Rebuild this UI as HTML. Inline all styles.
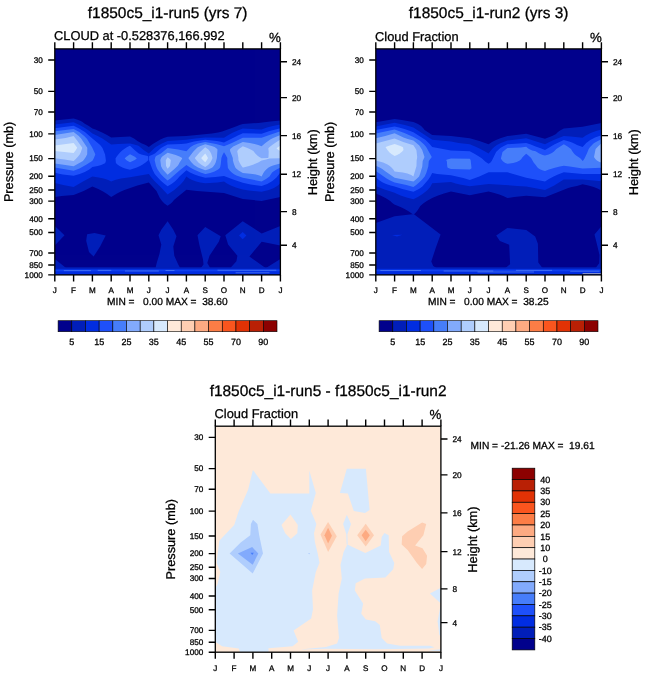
<!DOCTYPE html>
<html><head><meta charset="utf-8"><title>Cloud fraction annual cycle</title>
<style>html,body{margin:0;padding:0;background:#fff;}svg{display:block;will-change:transform;opacity:0.999;}text{font-family:"Liberation Sans",sans-serif;text-rendering:geometricPrecision;stroke:#000;stroke-width:0.28px;}</style></head>
<body>
<svg width="647" height="676" viewBox="0 0 647 676" font-family="Liberation Sans, sans-serif" fill="#000">
<defs><clipPath id="clipbox"><rect x="0" y="0" width="225.60" height="226.00"/></clipPath></defs>
<rect width="647" height="676" fill="#fff"/>
<g>
<rect x="54.80" y="48.90" width="225.60" height="226.00" fill="#00008c"/>
<g transform="translate(54.80 48.90)" clip-path="url(#clipbox)" shape-rendering="geometricPrecision">
<path d="M18.8 69.7L22.1 70.5L26.0 72.0L27.7 73.0L29.6 74.5L34.0 77.0L37.6 79.5L40.7 80.5L47.3 83.5L52.2 86.0L56.4 88.6L75.2 87.6L79.2 89.5L82.6 92.0L87.1 94.5L89.7 95.5L91.7 96.5L94.0 98.2L98.0 95.0L105.6 90.5L108.9 89.0L112.8 87.9L131.6 87.1L157.1 84.5L163.3 83.5L167.4 82.5L181.1 77.5L184.7 76.0L188.0 75.0L203.6 74.0L215.5 72.5L225.6 71.7L225.6 148.0L206.8 152.0L188.0 150.2L169.2 144.2L142.2 142.0L131.6 140.9L122.1 148.5L119.2 151.0L117.6 153.0L116.0 154.5L112.8 156.8L109.6 154.5L107.2 152.0L104.8 148.5L101.7 142.0L94.0 133.5L82.6 136.5L69.6 141.0L66.1 142.5L62.2 144.5L56.4 148.2L52.3 145.0L48.3 142.5L43.5 140.0L37.6 137.6L28.8 142.0L18.8 146.0L6.8 147.0L0.0 148.0L0.0 71.7Z" fill="#001eb9" fill-rule="evenodd"/>
<path d="M18.8 73.4L24.7 76.0L29.3 78.5L33.9 81.5L37.6 84.6L42.9 87.0L47.6 89.5L56.4 95.7L57.0 95.5L63.2 95.0L75.2 94.6L79.3 95.5L83.0 96.5L84.0 97.0L89.5 101.5L94.0 104.6L99.7 99.0L101.8 97.5L107.1 94.5L112.8 92.1L131.6 90.8L140.3 89.5L150.4 88.6L169.2 88.9L173.6 86.0L177.2 84.0L181.7 82.0L188.0 79.7L206.8 80.6L210.7 79.0L213.9 78.0L218.0 77.0L225.6 75.7L225.6 134.0L224.2 135.5L222.4 137.0L220.0 138.5L218.0 139.5L214.0 141.0L206.8 142.8L194.0 141.5L188.0 140.5L186.0 140.0L181.1 138.5L176.0 136.5L172.2 134.5L169.2 132.5L162.7 133.5L150.4 134.4L145.4 133.5L141.4 132.5L137.3 131.0L134.3 129.5L131.6 127.5L128.8 132.0L125.7 135.5L119.5 141.0L112.8 145.6L105.3 137.5L99.6 132.0L96.6 128.5L94.0 125.1L75.2 128.3L66.1 129.5L60.2 131.0L56.4 132.6L53.4 131.0L48.9 129.5L43.9 128.5L37.6 127.7L28.2 132.5L18.8 138.0L8.4 136.0L0.0 134.0L0.0 75.7Z" fill="#002de1" fill-rule="evenodd"/>
<path d="M18.8 76.8L24.3 79.5L30.1 83.0L37.6 89.7L44.8 95.5L45.8 96.5L47.7 99.0L50.3 105.5L51.1 111.5L51.1 112.0L50.6 113.5L50.4 114.0L49.7 114.5L46.4 116.0L42.9 117.0L37.6 118.0L34.5 120.5L30.0 123.0L24.9 125.0L18.8 126.8L8.0 125.5L3.0 124.5L0.0 123.7L0.0 79.4ZM225.6 79.4L225.6 123.7L221.7 128.5L217.6 132.0L212.5 135.0L206.8 137.2L195.8 135.5L188.0 133.8L178.4 130.5L169.2 127.0L160.6 128.0L150.4 128.8L143.9 127.0L139.7 125.5L135.2 123.5L131.6 121.4L124.7 127.5L122.6 130.0L120.0 132.5L116.7 135.0L112.8 137.3L109.2 134.5L105.8 131.5L102.5 128.0L99.9 125.0L97.4 120.0L94.2 111.0L94.3 107.5L94.5 107.0L98.2 105.5L100.1 104.5L106.3 99.0L109.8 97.0L112.8 95.6L126.5 95.0L131.6 94.5L139.3 92.5L150.4 90.8L162.0 92.0L164.8 92.5L169.2 93.6L183.1 86.5L188.0 84.3L206.8 84.8L214.8 82.0ZM75.2 96.9L80.3 101.5L84.0 104.5L86.5 105.5L92.9 107.0L93.4 107.5L93.5 109.5L93.5 111.0L93.1 111.5L90.8 113.5L87.9 115.5L85.3 117.0L82.0 118.5L75.2 120.8L70.3 119.5L67.7 118.5L64.7 117.0L62.6 115.5L61.1 114.0L60.7 109.5L61.6 108.0L63.1 106.0L65.2 103.5L67.3 101.5L71.6 98.5L74.5 97.0Z" fill="#1e50fa" fill-rule="evenodd"/>
<path d="M18.8 80.1L24.5 83.0L29.4 87.0L32.3 90.0L37.4 98.5L40.4 105.0L40.5 105.5L38.9 109.5L37.8 111.5L37.3 112.0L31.8 115.5L24.7 119.5L18.8 121.8L0.0 118.7L0.0 82.3ZM225.6 82.3L225.6 118.7L221.8 120.5L218.6 122.5L217.3 123.5L214.7 127.5L211.2 130.0L206.8 132.5L188.0 128.8L181.6 126.5L179.7 125.5L177.5 124.0L174.9 121.5L173.1 119.0L172.5 112.5L172.5 109.0L170.9 106.0L169.2 103.4L167.7 106.0L166.6 109.0L166.0 115.0L165.4 118.0L165.0 119.0L163.3 120.5L159.7 122.5L155.4 124.0L151.0 125.0L150.4 125.1L145.8 123.5L139.0 120.5L135.3 118.5L131.6 116.0L124.7 121.5L115.6 129.5L112.8 131.7L109.3 128.5L105.9 125.0L102.5 120.0L101.2 117.0L99.8 111.0L100.4 108.5L100.9 107.5L101.3 107.0L106.1 104.5L112.8 99.0L123.5 100.5L131.6 102.3L135.8 98.0L139.1 96.0L143.2 94.5L150.4 93.0L161.2 95.0L166.7 96.5L169.2 97.4L177.1 94.0L188.0 88.9L206.8 88.9L216.1 85.5ZM75.2 105.3L79.6 107.5L81.6 109.0L82.0 109.5L80.0 111.0L75.2 113.4L72.0 111.5L69.9 109.5L70.2 109.0L72.0 107.5Z" fill="#467dfa" fill-rule="evenodd"/>
<path d="M18.8 83.0L24.0 87.0L26.3 89.5L32.3 98.5L32.5 99.0L32.4 105.0L32.3 105.5L31.0 108.0L29.3 110.5L28.1 112.0L18.8 117.4L10.5 116.0L0.0 114.7L0.0 86.1ZM225.6 86.1L225.6 114.7L221.7 115.5L218.2 116.5L215.7 117.5L213.8 118.5L211.4 120.5L209.6 122.5L208.6 124.0L206.8 127.5L204.7 126.5L201.0 125.5L197.9 125.0L188.0 124.2L183.8 121.5L181.3 119.5L180.5 118.5L179.1 115.0L178.1 111.5L178.0 109.0L175.3 102.0L175.2 100.5L175.5 100.0L178.4 97.5L188.0 93.0L195.0 94.0L199.8 95.0L203.4 96.0L206.8 97.3L210.6 94.0L215.4 90.5L218.3 89.0ZM150.4 95.4L156.9 97.0L159.8 98.0L161.8 99.5L162.7 100.5L162.1 109.0L160.9 113.5L159.9 115.5L158.1 118.0L156.7 119.0L153.2 120.5L150.4 121.4L143.2 118.5L139.2 116.0L136.3 113.0L133.8 109.5L133.6 109.0L138.6 102.5L142.6 98.5L143.4 98.0L145.6 97.0ZM112.8 103.9L117.5 105.0L120.9 106.0L124.7 107.5L127.3 109.0L127.3 109.5L126.5 111.0L124.8 113.5L123.5 116.0L122.7 117.0L119.6 120.0L112.8 125.9L108.5 121.0L107.7 120.0L106.4 117.5L106.2 117.0L105.5 111.0L106.6 108.5L107.5 107.5Z" fill="#82aafc" fill-rule="evenodd"/>
<path d="M18.8 87.1L22.3 91.5L27.3 98.5L27.4 99.0L27.1 100.0L25.9 103.5L24.9 105.5L23.3 107.5L21.0 110.0L18.8 112.0L9.8 110.5L0.0 109.4L0.0 90.7L10.8 89.0ZM225.6 90.7L225.6 109.4L214.7 109.5L211.4 110.5L206.8 111.6L203.4 113.5L198.8 115.5L194.3 117.0L188.5 118.5L187.9 118.5L186.1 116.0L184.7 113.5L183.6 111.0L183.6 109.0L182.4 102.0L184.1 100.0L187.7 97.5L188.0 97.3L188.6 97.5L192.7 99.0L195.9 100.5L198.6 102.0L200.5 104.5L202.5 106.5L204.5 108.0L206.8 109.3L213.2 109.0L213.6 108.5L213.7 107.5L213.9 102.5L213.5 99.5L213.8 99.0L215.4 97.5L218.7 95.0L222.5 92.5ZM150.4 98.3L153.6 100.5L155.2 102.5L156.5 105.0L157.7 109.0L156.9 111.0L155.6 113.5L153.3 116.0L150.4 118.2L146.9 116.0L143.6 113.5L140.6 110.0L140.0 109.0L144.7 103.5ZM112.8 108.4L115.1 110.0L116.0 111.0L116.0 111.5L115.2 117.0L112.8 119.9L111.2 117.0L111.0 111.5L111.1 111.0Z" fill="#afcdfd" fill-rule="evenodd"/>
<path d="M18.8 94.1L22.3 98.5L22.3 99.0L20.8 101.5L18.8 104.1L0.0 102.1L0.0 96.5ZM225.6 96.5L225.6 102.1L223.6 101.0L221.8 99.5L222.0 99.0ZM150.4 104.7L151.8 106.5L153.2 109.0L152.1 111.0L150.4 113.4L147.1 110.0L146.4 109.0Z" fill="#d7e9fd" fill-rule="evenodd"/>
<path d="M0.0 177.1L9.7 186.4L0.0 196.6Z" fill="#001eb9"/>
<path d="M0.0 210.1L11.9 219.6L0.0 219.6Z" fill="#001eb9"/>
<path d="M32.3 185.4L39.7 184.1L50.9 186.7L45.3 197.5L38.8 207.7L34.2 203.1L31.4 191.9Z" fill="#001eb9"/>
<path d="M112.8 172.4L106.5 180.8L103.7 186.4L106.5 195.6L104.7 204.9L101.9 214.2L100.6 219.6L125.6 219.6L123.2 215.1L119.5 206.8L118.5 197.5L121.7 187.3L118.5 180.8Z" fill="#001eb9"/>
<path d="M150.4 178.0L142.7 186.4L144.5 195.6L148.2 210.5L148.7 215.6L145.7 219.6L155.7 219.6L152.5 214.2L154.7 206.8L164.0 192.8L165.9 187.3Z" fill="#001eb9"/>
<path d="M187.9 172.4L170.5 186.4L173.3 195.6L182.6 206.8L181.6 212.3L175.1 219.6L211.7 219.6L210.4 218.8L194.6 207.7L206.9 192.8L225.6 196.6L225.6 177.1L206.9 184.5Z" fill="#001eb9"/>
<path d="M225.6 210.1L210.4 219.6L225.6 219.6Z" fill="#001eb9"/>
<path d="M187.9 183.0L191.6 186.7L187.9 190.4L184.2 186.7Z" fill="#002de1"/>
<rect x="0" y="218.4" width="226.0" height="7.9" fill="#001eb9"/>
<rect x="0" y="219.9" width="226.0" height="6.4" fill="#002de1"/>
<rect x="0" y="220.9" width="226.0" height="1.5" fill="#1e50fa" fill-opacity="0.55"/>
<rect x="9.0" y="221.4" width="27.1" height="0.8" fill="#82aafc" fill-opacity="0.55"/>
<rect x="42.9" y="221.0" width="13.6" height="0.8" fill="#82aafc" fill-opacity="0.55"/>
<rect x="70.1" y="221.7" width="33.9" height="0.8" fill="#82aafc" fill-opacity="0.55"/>
<rect x="110.7" y="221.2" width="9.0" height="0.8" fill="#82aafc" fill-opacity="0.55"/>
<rect x="162.7" y="220.9" width="58.8" height="0.8" fill="#82aafc" fill-opacity="0.55"/>
<rect x="180.8" y="223.5" width="33.9" height="0.8" fill="#82aafc" fill-opacity="0.55"/>
</g>
<path d="M54.80 48.90v-6.60M54.80 274.90v6.60M73.60 48.90v-6.60M73.60 274.90v6.60M92.40 48.90v-6.60M92.40 274.90v6.60M111.20 48.90v-6.60M111.20 274.90v6.60M130.00 48.90v-6.60M130.00 274.90v6.60M148.80 48.90v-6.60M148.80 274.90v6.60M167.60 48.90v-6.60M167.60 274.90v6.60M186.40 48.90v-6.60M186.40 274.90v6.60M205.20 48.90v-6.60M205.20 274.90v6.60M224.00 48.90v-6.60M224.00 274.90v6.60M242.80 48.90v-6.60M242.80 274.90v6.60M261.60 48.90v-6.60M261.60 274.90v6.60M280.40 48.90v-6.60M280.40 274.90v6.60M54.80 60.07h-6.60M54.80 91.37h-6.60M54.80 111.98h-6.60M54.80 133.83h-6.60M54.80 158.67h-6.60M54.80 176.30h-6.60M54.80 189.97h-6.60M54.80 201.14h-6.60M54.80 218.76h-6.60M54.80 232.43h-6.60M54.80 253.05h-6.60M54.80 264.94h-6.60M54.80 274.90h-6.60M280.40 61.70h6.60M280.40 97.60h6.60M280.40 135.60h6.60M280.40 174.30h6.60M280.40 211.60h6.60M280.40 245.30h6.60" stroke="#000" stroke-width="1.4" fill="none"/>
<rect x="54.80" y="48.90" width="225.60" height="226.00" fill="none" stroke="#000" stroke-width="1.3"/>
<text x="42.80" y="62.87" font-size="8.20" text-anchor="end"  xml:space="preserve">30</text>
<text x="42.80" y="94.17" font-size="8.20" text-anchor="end"  xml:space="preserve">50</text>
<text x="42.80" y="114.78" font-size="8.20" text-anchor="end"  xml:space="preserve">70</text>
<text x="42.80" y="136.63" font-size="8.20" text-anchor="end"  xml:space="preserve">100</text>
<text x="42.80" y="161.47" font-size="8.20" text-anchor="end"  xml:space="preserve">150</text>
<text x="42.80" y="179.10" font-size="8.20" text-anchor="end"  xml:space="preserve">200</text>
<text x="42.80" y="192.77" font-size="8.20" text-anchor="end"  xml:space="preserve">250</text>
<text x="42.80" y="203.94" font-size="8.20" text-anchor="end"  xml:space="preserve">300</text>
<text x="42.80" y="221.56" font-size="8.20" text-anchor="end"  xml:space="preserve">400</text>
<text x="42.80" y="235.23" font-size="8.20" text-anchor="end"  xml:space="preserve">500</text>
<text x="42.80" y="255.85" font-size="8.20" text-anchor="end"  xml:space="preserve">700</text>
<text x="42.80" y="267.74" font-size="8.20" text-anchor="end"  xml:space="preserve">850</text>
<text x="42.80" y="277.70" font-size="8.20" text-anchor="end"  xml:space="preserve">1000</text>
<text x="291.90" y="64.70" font-size="8.30" text-anchor="start"  xml:space="preserve">24</text>
<text x="291.90" y="100.60" font-size="8.30" text-anchor="start"  xml:space="preserve">20</text>
<text x="291.90" y="138.60" font-size="8.30" text-anchor="start"  xml:space="preserve">16</text>
<text x="291.90" y="177.30" font-size="8.30" text-anchor="start"  xml:space="preserve">12</text>
<text x="291.90" y="214.60" font-size="8.30" text-anchor="start"  xml:space="preserve">8</text>
<text x="291.90" y="248.30" font-size="8.30" text-anchor="start"  xml:space="preserve">4</text>
<text x="54.80" y="293.20" font-size="8.10" text-anchor="middle"  xml:space="preserve">J</text>
<text x="73.60" y="293.20" font-size="8.10" text-anchor="middle"  xml:space="preserve">F</text>
<text x="92.40" y="293.20" font-size="8.10" text-anchor="middle"  xml:space="preserve">M</text>
<text x="111.20" y="293.20" font-size="8.10" text-anchor="middle"  xml:space="preserve">A</text>
<text x="130.00" y="293.20" font-size="8.10" text-anchor="middle"  xml:space="preserve">M</text>
<text x="148.80" y="293.20" font-size="8.10" text-anchor="middle"  xml:space="preserve">J</text>
<text x="167.60" y="293.20" font-size="8.10" text-anchor="middle"  xml:space="preserve">J</text>
<text x="186.40" y="293.20" font-size="8.10" text-anchor="middle"  xml:space="preserve">A</text>
<text x="205.20" y="293.20" font-size="8.10" text-anchor="middle"  xml:space="preserve">S</text>
<text x="224.00" y="293.20" font-size="8.10" text-anchor="middle"  xml:space="preserve">O</text>
<text x="242.80" y="293.20" font-size="8.10" text-anchor="middle"  xml:space="preserve">N</text>
<text x="261.60" y="293.20" font-size="8.10" text-anchor="middle"  xml:space="preserve">D</text>
<text x="280.40" y="293.20" font-size="8.10" text-anchor="middle"  xml:space="preserve">J</text>
<text x="167.60" y="17.60" font-size="15.45" text-anchor="middle"  xml:space="preserve">f1850c5_i1-run5 (yrs 7)</text>
<text x="54.00" y="39.80" font-size="12.85" text-anchor="start"  xml:space="preserve">CLOUD at -0.528376,166.992</text>
<text x="280.80" y="41.50" font-size="13.30" text-anchor="end"  xml:space="preserve">%</text>
<text transform="translate(13.40 161.90) rotate(-90)" font-size="12.70" text-anchor="middle">Pressure (mb)</text>
<text transform="translate(316.60 162.30) rotate(-90)" font-size="12.80" text-anchor="middle">Height (km)</text>
</g>
<text x="167.40" y="305.00" font-size="10.20" text-anchor="middle"  xml:space="preserve">MIN =   0.00 MAX =  38.60</text>
<rect x="58.10" y="320.70" width="13.68" height="11.00" fill="#00008c" stroke="#000" stroke-width="0.6"/>
<rect x="71.78" y="320.70" width="13.68" height="11.00" fill="#001eb9" stroke="#000" stroke-width="0.6"/>
<rect x="85.46" y="320.70" width="13.68" height="11.00" fill="#002de1" stroke="#000" stroke-width="0.6"/>
<rect x="99.14" y="320.70" width="13.68" height="11.00" fill="#1e50fa" stroke="#000" stroke-width="0.6"/>
<rect x="112.83" y="320.70" width="13.68" height="11.00" fill="#467dfa" stroke="#000" stroke-width="0.6"/>
<rect x="126.51" y="320.70" width="13.68" height="11.00" fill="#82aafc" stroke="#000" stroke-width="0.6"/>
<rect x="140.19" y="320.70" width="13.68" height="11.00" fill="#afcdfd" stroke="#000" stroke-width="0.6"/>
<rect x="153.87" y="320.70" width="13.68" height="11.00" fill="#d7e9fd" stroke="#000" stroke-width="0.6"/>
<rect x="167.55" y="320.70" width="13.68" height="11.00" fill="#fee9d9" stroke="#000" stroke-width="0.6"/>
<rect x="181.23" y="320.70" width="13.68" height="11.00" fill="#feceb2" stroke="#000" stroke-width="0.6"/>
<rect x="194.91" y="320.70" width="13.68" height="11.00" fill="#fdaa82" stroke="#000" stroke-width="0.6"/>
<rect x="208.59" y="320.70" width="13.68" height="11.00" fill="#fc7d46" stroke="#000" stroke-width="0.6"/>
<rect x="222.28" y="320.70" width="13.68" height="11.00" fill="#fa551e" stroke="#000" stroke-width="0.6"/>
<rect x="235.96" y="320.70" width="13.68" height="11.00" fill="#e13205" stroke="#000" stroke-width="0.6"/>
<rect x="249.64" y="320.70" width="13.68" height="11.00" fill="#b92005" stroke="#000" stroke-width="0.6"/>
<rect x="263.32" y="320.70" width="13.68" height="11.00" fill="#8c0000" stroke="#000" stroke-width="0.6"/>
<text x="71.78" y="345.00" font-size="9.00" text-anchor="middle"  xml:space="preserve">5</text>
<text x="99.14" y="345.00" font-size="9.00" text-anchor="middle"  xml:space="preserve">15</text>
<text x="126.51" y="345.00" font-size="9.00" text-anchor="middle"  xml:space="preserve">25</text>
<text x="153.87" y="345.00" font-size="9.00" text-anchor="middle"  xml:space="preserve">35</text>
<text x="181.23" y="345.00" font-size="9.00" text-anchor="middle"  xml:space="preserve">45</text>
<text x="208.59" y="345.00" font-size="9.00" text-anchor="middle"  xml:space="preserve">55</text>
<text x="235.96" y="345.00" font-size="9.00" text-anchor="middle"  xml:space="preserve">70</text>
<text x="263.32" y="345.00" font-size="9.00" text-anchor="middle"  xml:space="preserve">90</text>
<g>
<rect x="375.80" y="48.90" width="225.60" height="226.00" fill="#00008c"/>
<g transform="translate(375.80 48.90)" clip-path="url(#clipbox)" shape-rendering="geometricPrecision">
<path d="M18.8 70.0L26.1 71.0L34.5 72.5L37.6 73.2L41.2 74.5L43.1 75.5L45.3 77.0L47.7 79.5L48.8 81.0L56.4 86.1L75.2 87.1L94.0 89.3L103.6 92.0L112.8 95.4L116.2 93.0L120.2 91.0L125.2 89.0L130.1 87.5L131.6 87.1L150.4 84.8L169.2 89.9L176.3 87.0L179.3 85.5L180.2 85.0L181.6 83.5L183.5 82.0L185.2 81.0L188.0 79.7L206.8 77.9L225.6 74.0L225.6 141.6L221.7 139.5L217.9 138.0L212.6 136.5L206.8 135.3L201.2 137.0L196.0 138.0L192.4 139.0L169.2 148.3L150.4 146.8L138.4 148.0L131.6 149.2L127.4 147.0L123.5 145.5L118.5 144.0L112.8 142.7L102.6 144.5L94.0 146.4L75.2 142.7L68.2 144.5L62.3 146.5L56.4 149.1L51.0 152.0L47.4 154.5L44.5 157.0L42.7 160.0L41.3 162.0L39.6 164.0L37.6 165.9L33.1 162.5L28.8 160.0L24.7 158.0L18.5 155.5L16.5 154.0L14.4 152.0L9.7 149.0L4.7 146.5L0.0 144.6L0.0 73.3Z" fill="#001eb9" fill-rule="evenodd"/>
<path d="M18.8 73.9L29.0 76.0L32.6 77.0L37.6 78.7L39.9 80.0L56.4 90.9L75.2 92.6L82.8 94.0L94.0 95.4L99.3 97.5L103.7 99.5L108.4 102.0L112.8 104.7L114.7 102.0L116.8 99.5L118.4 98.0L120.4 96.5L122.0 95.5L125.1 94.0L131.6 91.7L150.4 89.3L169.2 95.4L173.6 93.0L177.8 91.0L188.0 87.1L195.0 87.5L206.8 88.9L210.0 86.5L214.8 84.0L220.3 82.0L225.6 80.6L225.6 132.4L217.8 131.5L206.8 130.7L188.0 130.7L178.4 136.5L169.2 141.2L150.4 137.5L141.3 137.0L129.0 136.0L112.8 135.2L94.0 137.3L84.0 135.5L79.8 134.5L75.2 133.1L56.4 134.4L54.4 138.0L51.8 141.0L46.8 145.0L42.1 148.0L37.6 150.3L30.8 148.5L24.8 146.5L18.1 143.5L8.7 140.5L0.0 137.2L0.0 77.5L9.7 75.5Z" fill="#002de1" fill-rule="evenodd"/>
<path d="M18.8 77.5L23.3 78.5L28.7 80.0L33.0 81.5L37.6 83.4L49.8 91.0L53.4 94.5L56.4 98.2L75.2 101.5L94.0 102.3L99.1 105.0L104.0 108.0L106.2 109.5L110.0 113.0L112.8 114.9L114.7 113.5L115.9 112.0L120.3 103.0L121.3 102.0L124.5 99.0L128.0 97.0L131.6 95.4L150.4 94.1L155.0 95.5L159.8 97.5L164.2 99.0L169.2 101.0L178.4 95.5L182.6 93.5L188.0 91.2L193.3 92.5L196.2 93.5L199.4 95.0L201.2 96.1L206.8 98.2L210.4 94.0L214.4 91.0L219.2 88.5L225.6 86.3L225.6 125.1L206.8 125.1L188.0 123.3L182.2 125.5L177.8 127.5L173.1 130.0L169.2 132.5L150.4 128.8L131.6 123.3L112.8 123.3L103.5 127.5L94.0 131.1L87.4 129.0L78.6 127.0L75.2 126.4L61.3 125.0L56.4 124.1L54.6 127.5L52.6 130.5L46.6 137.5L43.2 140.0L37.6 142.8L26.5 140.0L18.8 137.5L14.8 136.5L10.3 135.0L7.0 133.5L5.3 132.5L2.5 130.5L0.0 128.2L0.0 81.1L10.3 79.0Z" fill="#1e50fa" fill-rule="evenodd"/>
<path d="M18.8 80.6L28.6 84.0L37.6 88.0L43.8 91.5L48.3 95.5L50.4 98.0L56.0 108.0L53.0 112.0L52.5 117.5L50.5 124.0L48.9 127.5L46.3 130.5L43.3 133.5L40.4 136.0L37.6 138.1L30.6 136.0L18.8 133.5L17.6 133.0L14.3 131.5L10.8 129.5L0.0 122.0L0.0 84.7ZM225.6 90.4L225.6 118.9L206.8 119.5L194.0 117.5L188.0 116.8L184.0 117.5L178.2 119.0L173.2 120.5L169.2 122.0L167.3 121.5L164.6 120.5L162.9 119.5L161.7 118.5L159.9 116.0L157.8 113.5L155.3 109.0L152.6 106.5L150.4 104.8L147.9 107.0L146.1 109.0L145.6 110.0L143.9 111.5L140.9 113.0L137.4 114.0L131.6 114.9L129.5 114.0L127.3 112.5L126.0 111.0L125.1 109.5L126.7 103.0L131.6 99.1L145.1 98.5L150.4 97.9L152.4 99.5L154.2 100.5L156.4 101.5L159.8 102.3L163.4 104.5L166.9 106.0L169.2 106.6L172.9 105.5L176.1 104.0L178.2 102.5L180.5 100.0L188.0 95.4L191.8 97.5L195.2 100.0L197.0 103.0L198.6 105.0L200.3 106.5L204.1 109.0L205.2 110.0L206.8 112.1L207.8 111.0L208.7 109.5L211.1 104.5L212.9 100.0L214.3 98.0L217.7 94.5L218.4 94.0L222.0 92.0ZM75.2 109.7L94.0 109.8L94.8 111.0L94.9 111.5L95.7 119.0L95.5 119.5L94.0 120.7L75.2 120.1L72.5 119.0L71.7 118.5L71.4 117.0L71.1 112.5L70.9 112.0L70.3 111.0L71.4 110.5L73.3 110.0Z" fill="#467dfa" fill-rule="evenodd"/>
<path d="M18.8 84.3L27.7 88.5L31.9 90.0L37.6 91.7L40.6 94.0L43.5 96.5L46.4 101.0L48.7 108.0L46.9 112.0L46.5 117.5L44.6 124.0L43.3 127.5L40.7 130.0L37.6 132.5L18.8 128.8L9.8 122.5L6.5 120.0L3.9 118.5L0.0 116.8L0.0 89.4L9.4 87.0ZM225.6 94.4L225.6 113.7L223.7 113.0L221.1 111.5L219.5 110.0L218.2 108.0L219.8 100.0L222.2 97.5Z" fill="#82aafc" fill-rule="evenodd"/>
<path d="M18.8 89.7L27.4 93.0L37.6 96.4L40.6 101.0L41.4 108.0L40.8 112.0L40.7 117.0L37.6 127.5L35.4 126.0L31.6 124.5L27.1 123.5L18.8 122.5L17.5 120.5L15.7 118.5L14.0 117.0L11.7 115.5L7.3 113.5L0.0 111.5L0.0 94.7Z" fill="#afcdfd" fill-rule="evenodd"/>
<path d="M18.8 95.1L23.2 96.5L26.9 98.0L27.2 98.5L27.7 101.0L26.4 102.5L24.0 104.5L21.3 106.0L18.8 107.0L15.6 105.0L13.8 103.5L11.6 101.0L10.0 98.5L10.0 98.0L12.4 97.0Z" fill="#d7e9fd" fill-rule="evenodd"/>
<path d="M0.0 174.1L18.8 167.4L36.4 165.4L38.2 165.4L64.8 185.6L60.1 198.6L55.5 212.5L57.4 217.2L61.2 219.4L0.0 219.4Z" fill="#001eb9"/>
<path d="M120.4 186.6L131.5 179.1L150.5 181.0L159.4 187.5L162.1 194.9L162.5 213.5L165.9 218.1L167.2 219.4L129.2 219.4L131.5 217.5L134.3 215.3L133.4 195.8L124.1 192.1Z" fill="#001eb9"/>
<path d="M225.6 177.3L218.7 185.6L221.5 196.8L223.7 206.0L223.4 214.4L220.6 218.1L219.2 219.4L225.6 219.4Z" fill="#001eb9"/>
<path d="M16.2 186.1L26.7 185.9L21.2 187.7Z" fill="#002de1"/>
<rect x="0" y="218.4" width="226.0" height="7.9" fill="#001eb9"/>
<rect x="0" y="219.9" width="226.0" height="6.4" fill="#002de1"/>
<rect x="0" y="220.9" width="226.0" height="1.5" fill="#1e50fa" fill-opacity="0.55"/>
<rect x="4.5" y="221.3" width="40.7" height="0.8" fill="#82aafc" fill-opacity="0.55"/>
<rect x="67.8" y="221.7" width="49.7" height="0.8" fill="#82aafc" fill-opacity="0.55"/>
<rect x="101.7" y="222.7" width="56.5" height="0.8" fill="#82aafc" fill-opacity="0.55"/>
<rect x="140.1" y="221.0" width="36.2" height="0.8" fill="#82aafc" fill-opacity="0.55"/>
<rect x="194.4" y="221.9" width="29.4" height="0.8" fill="#82aafc" fill-opacity="0.55"/>
<rect x="206.8" y="224.3" width="18.8" height="0.9" fill="#a4a8c4"/>
</g>
<path d="M375.80 48.90v-6.60M375.80 274.90v6.60M394.60 48.90v-6.60M394.60 274.90v6.60M413.40 48.90v-6.60M413.40 274.90v6.60M432.20 48.90v-6.60M432.20 274.90v6.60M451.00 48.90v-6.60M451.00 274.90v6.60M469.80 48.90v-6.60M469.80 274.90v6.60M488.60 48.90v-6.60M488.60 274.90v6.60M507.40 48.90v-6.60M507.40 274.90v6.60M526.20 48.90v-6.60M526.20 274.90v6.60M545.00 48.90v-6.60M545.00 274.90v6.60M563.80 48.90v-6.60M563.80 274.90v6.60M582.60 48.90v-6.60M582.60 274.90v6.60M601.40 48.90v-6.60M601.40 274.90v6.60M375.80 60.07h-6.60M375.80 91.37h-6.60M375.80 111.98h-6.60M375.80 133.83h-6.60M375.80 158.67h-6.60M375.80 176.30h-6.60M375.80 189.97h-6.60M375.80 201.14h-6.60M375.80 218.76h-6.60M375.80 232.43h-6.60M375.80 253.05h-6.60M375.80 264.94h-6.60M375.80 274.90h-6.60M601.40 61.70h6.60M601.40 97.60h6.60M601.40 135.60h6.60M601.40 174.30h6.60M601.40 211.60h6.60M601.40 245.30h6.60" stroke="#000" stroke-width="1.4" fill="none"/>
<rect x="375.80" y="48.90" width="225.60" height="226.00" fill="none" stroke="#000" stroke-width="1.3"/>
<text x="363.80" y="62.87" font-size="8.20" text-anchor="end"  xml:space="preserve">30</text>
<text x="363.80" y="94.17" font-size="8.20" text-anchor="end"  xml:space="preserve">50</text>
<text x="363.80" y="114.78" font-size="8.20" text-anchor="end"  xml:space="preserve">70</text>
<text x="363.80" y="136.63" font-size="8.20" text-anchor="end"  xml:space="preserve">100</text>
<text x="363.80" y="161.47" font-size="8.20" text-anchor="end"  xml:space="preserve">150</text>
<text x="363.80" y="179.10" font-size="8.20" text-anchor="end"  xml:space="preserve">200</text>
<text x="363.80" y="192.77" font-size="8.20" text-anchor="end"  xml:space="preserve">250</text>
<text x="363.80" y="203.94" font-size="8.20" text-anchor="end"  xml:space="preserve">300</text>
<text x="363.80" y="221.56" font-size="8.20" text-anchor="end"  xml:space="preserve">400</text>
<text x="363.80" y="235.23" font-size="8.20" text-anchor="end"  xml:space="preserve">500</text>
<text x="363.80" y="255.85" font-size="8.20" text-anchor="end"  xml:space="preserve">700</text>
<text x="363.80" y="267.74" font-size="8.20" text-anchor="end"  xml:space="preserve">850</text>
<text x="363.80" y="277.70" font-size="8.20" text-anchor="end"  xml:space="preserve">1000</text>
<text x="612.90" y="64.70" font-size="8.30" text-anchor="start"  xml:space="preserve">24</text>
<text x="612.90" y="100.60" font-size="8.30" text-anchor="start"  xml:space="preserve">20</text>
<text x="612.90" y="138.60" font-size="8.30" text-anchor="start"  xml:space="preserve">16</text>
<text x="612.90" y="177.30" font-size="8.30" text-anchor="start"  xml:space="preserve">12</text>
<text x="612.90" y="214.60" font-size="8.30" text-anchor="start"  xml:space="preserve">8</text>
<text x="612.90" y="248.30" font-size="8.30" text-anchor="start"  xml:space="preserve">4</text>
<text x="375.80" y="293.20" font-size="8.10" text-anchor="middle"  xml:space="preserve">J</text>
<text x="394.60" y="293.20" font-size="8.10" text-anchor="middle"  xml:space="preserve">F</text>
<text x="413.40" y="293.20" font-size="8.10" text-anchor="middle"  xml:space="preserve">M</text>
<text x="432.20" y="293.20" font-size="8.10" text-anchor="middle"  xml:space="preserve">A</text>
<text x="451.00" y="293.20" font-size="8.10" text-anchor="middle"  xml:space="preserve">M</text>
<text x="469.80" y="293.20" font-size="8.10" text-anchor="middle"  xml:space="preserve">J</text>
<text x="488.60" y="293.20" font-size="8.10" text-anchor="middle"  xml:space="preserve">J</text>
<text x="507.40" y="293.20" font-size="8.10" text-anchor="middle"  xml:space="preserve">A</text>
<text x="526.20" y="293.20" font-size="8.10" text-anchor="middle"  xml:space="preserve">S</text>
<text x="545.00" y="293.20" font-size="8.10" text-anchor="middle"  xml:space="preserve">O</text>
<text x="563.80" y="293.20" font-size="8.10" text-anchor="middle"  xml:space="preserve">N</text>
<text x="582.60" y="293.20" font-size="8.10" text-anchor="middle"  xml:space="preserve">D</text>
<text x="601.40" y="293.20" font-size="8.10" text-anchor="middle"  xml:space="preserve">J</text>
<text x="488.60" y="17.90" font-size="15.45" text-anchor="middle"  xml:space="preserve">f1850c5_i1-run2 (yrs 3)</text>
<text x="375.00" y="40.60" font-size="12.85" text-anchor="start"  xml:space="preserve">Cloud Fraction</text>
<text x="601.80" y="41.50" font-size="13.30" text-anchor="end"  xml:space="preserve">%</text>
<text transform="translate(334.40 161.90) rotate(-90)" font-size="12.70" text-anchor="middle">Pressure (mb)</text>
<text transform="translate(637.60 162.30) rotate(-90)" font-size="12.80" text-anchor="middle">Height (km)</text>
</g>
<text x="488.40" y="305.00" font-size="10.20" text-anchor="middle"  xml:space="preserve">MIN =   0.00 MAX =  38.25</text>
<rect x="379.10" y="320.70" width="13.68" height="11.00" fill="#00008c" stroke="#000" stroke-width="0.6"/>
<rect x="392.78" y="320.70" width="13.68" height="11.00" fill="#001eb9" stroke="#000" stroke-width="0.6"/>
<rect x="406.46" y="320.70" width="13.68" height="11.00" fill="#002de1" stroke="#000" stroke-width="0.6"/>
<rect x="420.14" y="320.70" width="13.68" height="11.00" fill="#1e50fa" stroke="#000" stroke-width="0.6"/>
<rect x="433.83" y="320.70" width="13.68" height="11.00" fill="#467dfa" stroke="#000" stroke-width="0.6"/>
<rect x="447.51" y="320.70" width="13.68" height="11.00" fill="#82aafc" stroke="#000" stroke-width="0.6"/>
<rect x="461.19" y="320.70" width="13.68" height="11.00" fill="#afcdfd" stroke="#000" stroke-width="0.6"/>
<rect x="474.87" y="320.70" width="13.68" height="11.00" fill="#d7e9fd" stroke="#000" stroke-width="0.6"/>
<rect x="488.55" y="320.70" width="13.68" height="11.00" fill="#fee9d9" stroke="#000" stroke-width="0.6"/>
<rect x="502.23" y="320.70" width="13.68" height="11.00" fill="#feceb2" stroke="#000" stroke-width="0.6"/>
<rect x="515.91" y="320.70" width="13.68" height="11.00" fill="#fdaa82" stroke="#000" stroke-width="0.6"/>
<rect x="529.59" y="320.70" width="13.68" height="11.00" fill="#fc7d46" stroke="#000" stroke-width="0.6"/>
<rect x="543.28" y="320.70" width="13.68" height="11.00" fill="#fa551e" stroke="#000" stroke-width="0.6"/>
<rect x="556.96" y="320.70" width="13.68" height="11.00" fill="#e13205" stroke="#000" stroke-width="0.6"/>
<rect x="570.64" y="320.70" width="13.68" height="11.00" fill="#b92005" stroke="#000" stroke-width="0.6"/>
<rect x="584.32" y="320.70" width="13.68" height="11.00" fill="#8c0000" stroke="#000" stroke-width="0.6"/>
<text x="392.78" y="345.00" font-size="9.00" text-anchor="middle"  xml:space="preserve">5</text>
<text x="420.14" y="345.00" font-size="9.00" text-anchor="middle"  xml:space="preserve">15</text>
<text x="447.51" y="345.00" font-size="9.00" text-anchor="middle"  xml:space="preserve">25</text>
<text x="474.87" y="345.00" font-size="9.00" text-anchor="middle"  xml:space="preserve">35</text>
<text x="502.23" y="345.00" font-size="9.00" text-anchor="middle"  xml:space="preserve">45</text>
<text x="529.59" y="345.00" font-size="9.00" text-anchor="middle"  xml:space="preserve">55</text>
<text x="556.96" y="345.00" font-size="9.00" text-anchor="middle"  xml:space="preserve">70</text>
<text x="584.32" y="345.00" font-size="9.00" text-anchor="middle"  xml:space="preserve">90</text>
<g>
<rect x="215.30" y="426.20" width="225.60" height="226.00" fill="#fee9d9"/>
<g transform="translate(215.30 426.20)" clip-path="url(#clipbox)" shape-rendering="geometricPrecision">
<path d="M37.6 43.7L55.1 67.2L94.0 67.2L94.0 44.4L100.5 66.7L95.5 84.5L101.1 97.8L98.7 107.1L99.6 115.8L102.4 127.4L104.2 136.6L100.5 145.9L96.8 164.5L97.7 183.0L95.9 192.3L78.3 204.3L82.9 215.5L77.3 220.1L53.2 222.0L53.2 226.0L24.7 226.0L23.5 222.3L6.8 220.1L0.0 215.5L0.0 161.7L2.2 158.0L5.0 145.9L1.3 136.6L4.0 114.5L18.9 98.8L23.5 84.9L32.8 63.5Z" fill="#d7e9fd"/>
<path d="M75.1 88.2L82.5 98.8L82.0 107.1L75.5 112.7L69.9 107.1L66.2 98.8Z" fill="#fee9d9"/>
<path d="M37.7 93.6L42.1 97.8L43.9 109.0L47.7 127.4L37.4 147.4L14.3 127.4L25.4 116.2L35.0 109.0L35.6 97.8Z" fill="#afcdfd"/>
<path d="M22.6 127.4L36.9 120.9L43.0 127.4L37.4 138.5Z" fill="#82aafc"/>
<path d="M35.3 126.6L38.5 126.6L36.9 128.8Z" fill="#467dfa"/>
<path d="M92.9 126.8L94.7 126.8L93.8 128.4Z" fill="#afcdfd"/>
<path d="M131.5 42.6L150.6 42.6L154.3 83.9L149.7 86.7L138.5 84.9L132.6 67.2L124.6 66.7Z" fill="#d7e9fd"/>
<path d="M131.5 88.6L135.7 97.9L132.1 108.1L132.4 118.3L131.3 118.3L131.0 108.1L127.8 97.9Z" fill="#d7e9fd"/>
<path d="M132.0 118.3L150.0 126.7L165.4 119.3L166.4 110.9L169.1 106.8L173.4 109.1L173.8 125.8L179.0 136.9L177.9 143.1L170.1 151.4L149.7 152.4L140.4 157.0L139.5 164.4L147.8 177.4L146.0 187.6L150.6 193.2L159.9 195.0L164.5 198.7L166.4 211.7L171.9 217.3L184.9 219.5L214.6 219.5L219.2 221.0L213.7 222.4L160.7 223.1L110.7 222.6L84.7 223.4L110.7 220.8L121.8 217.3L123.7 211.7L121.8 189.5L123.3 167.2L126.5 152.4L125.2 138.8L128.3 125.8Z" fill="#d7e9fd"/>
<path d="M225.6 161.6L214.6 167.2L225.6 177.4Z" fill="#d7e9fd"/>
<path d="M225.6 177.4L222.3 195.0L223.9 208.0L225.6 211.3Z" fill="#d7e9fd"/>
<path d="M212.7 224.2L225.6 223.0L225.6 224.8Z" fill="#d7e9fd"/>
<path d="M112.8 95.8L121.5 110.0L112.8 125.8L105.2 108.3Z" fill="#feceb2"/>
<path d="M112.8 101.6L116.6 109.5L112.8 117.4L109.2 109.0Z" fill="#fdaa82"/>
<path d="M150.4 97.5L158.7 109.1L150.4 120.2L141.9 109.1Z" fill="#feceb2"/>
<path d="M150.4 103.5L154.5 109.1L150.4 115.0L146.3 109.1Z" fill="#fdaa82"/>
<path d="M186.8 110.0L192.3 105.3L206.8 96.4L210.9 97.9L208.1 109.1L199.8 119.3L207.2 122.0L211.8 129.5L210.9 137.8L206.8 142.8L201.6 136.9L192.3 123.9L186.4 118.3Z" fill="#feceb2"/>
</g>
<path d="M215.30 426.20v-6.60M215.30 652.20v6.60M234.10 426.20v-6.60M234.10 652.20v6.60M252.90 426.20v-6.60M252.90 652.20v6.60M271.70 426.20v-6.60M271.70 652.20v6.60M290.50 426.20v-6.60M290.50 652.20v6.60M309.30 426.20v-6.60M309.30 652.20v6.60M328.10 426.20v-6.60M328.10 652.20v6.60M346.90 426.20v-6.60M346.90 652.20v6.60M365.70 426.20v-6.60M365.70 652.20v6.60M384.50 426.20v-6.60M384.50 652.20v6.60M403.30 426.20v-6.60M403.30 652.20v6.60M422.10 426.20v-6.60M422.10 652.20v6.60M440.90 426.20v-6.60M440.90 652.20v6.60M215.30 437.37h-6.60M215.30 468.67h-6.60M215.30 489.28h-6.60M215.30 511.13h-6.60M215.30 535.97h-6.60M215.30 553.60h-6.60M215.30 567.27h-6.60M215.30 578.44h-6.60M215.30 596.06h-6.60M215.30 609.73h-6.60M215.30 630.35h-6.60M215.30 642.24h-6.60M215.30 652.20h-6.60M440.90 439.00h6.60M440.90 474.90h6.60M440.90 512.90h6.60M440.90 551.60h6.60M440.90 588.90h6.60M440.90 622.60h6.60" stroke="#000" stroke-width="1.4" fill="none"/>
<rect x="215.30" y="426.20" width="225.60" height="226.00" fill="none" stroke="#000" stroke-width="1.3"/>
<text x="203.30" y="440.17" font-size="8.20" text-anchor="end"  xml:space="preserve">30</text>
<text x="203.30" y="471.47" font-size="8.20" text-anchor="end"  xml:space="preserve">50</text>
<text x="203.30" y="492.08" font-size="8.20" text-anchor="end"  xml:space="preserve">70</text>
<text x="203.30" y="513.93" font-size="8.20" text-anchor="end"  xml:space="preserve">100</text>
<text x="203.30" y="538.77" font-size="8.20" text-anchor="end"  xml:space="preserve">150</text>
<text x="203.30" y="556.40" font-size="8.20" text-anchor="end"  xml:space="preserve">200</text>
<text x="203.30" y="570.07" font-size="8.20" text-anchor="end"  xml:space="preserve">250</text>
<text x="203.30" y="581.24" font-size="8.20" text-anchor="end"  xml:space="preserve">300</text>
<text x="203.30" y="598.86" font-size="8.20" text-anchor="end"  xml:space="preserve">400</text>
<text x="203.30" y="612.53" font-size="8.20" text-anchor="end"  xml:space="preserve">500</text>
<text x="203.30" y="633.15" font-size="8.20" text-anchor="end"  xml:space="preserve">700</text>
<text x="203.30" y="645.04" font-size="8.20" text-anchor="end"  xml:space="preserve">850</text>
<text x="203.30" y="655.00" font-size="8.20" text-anchor="end"  xml:space="preserve">1000</text>
<text x="452.40" y="442.00" font-size="8.30" text-anchor="start"  xml:space="preserve">24</text>
<text x="452.40" y="477.90" font-size="8.30" text-anchor="start"  xml:space="preserve">20</text>
<text x="452.40" y="515.90" font-size="8.30" text-anchor="start"  xml:space="preserve">16</text>
<text x="452.40" y="554.60" font-size="8.30" text-anchor="start"  xml:space="preserve">12</text>
<text x="452.40" y="591.90" font-size="8.30" text-anchor="start"  xml:space="preserve">8</text>
<text x="452.40" y="625.60" font-size="8.30" text-anchor="start"  xml:space="preserve">4</text>
<text x="215.30" y="670.50" font-size="8.10" text-anchor="middle"  xml:space="preserve">J</text>
<text x="234.10" y="670.50" font-size="8.10" text-anchor="middle"  xml:space="preserve">F</text>
<text x="252.90" y="670.50" font-size="8.10" text-anchor="middle"  xml:space="preserve">M</text>
<text x="271.70" y="670.50" font-size="8.10" text-anchor="middle"  xml:space="preserve">A</text>
<text x="290.50" y="670.50" font-size="8.10" text-anchor="middle"  xml:space="preserve">M</text>
<text x="309.30" y="670.50" font-size="8.10" text-anchor="middle"  xml:space="preserve">J</text>
<text x="328.10" y="670.50" font-size="8.10" text-anchor="middle"  xml:space="preserve">J</text>
<text x="346.90" y="670.50" font-size="8.10" text-anchor="middle"  xml:space="preserve">A</text>
<text x="365.70" y="670.50" font-size="8.10" text-anchor="middle"  xml:space="preserve">S</text>
<text x="384.50" y="670.50" font-size="8.10" text-anchor="middle"  xml:space="preserve">O</text>
<text x="403.30" y="670.50" font-size="8.10" text-anchor="middle"  xml:space="preserve">N</text>
<text x="422.10" y="670.50" font-size="8.10" text-anchor="middle"  xml:space="preserve">D</text>
<text x="440.90" y="670.50" font-size="8.10" text-anchor="middle"  xml:space="preserve">J</text>
<text x="328.10" y="395.50" font-size="15.45" text-anchor="middle"  xml:space="preserve">f1850c5_i1-run5 - f1850c5_i1-run2</text>
<text x="214.50" y="418.30" font-size="12.85" text-anchor="start"  xml:space="preserve">Cloud Fraction</text>
<text x="441.30" y="418.80" font-size="13.30" text-anchor="end"  xml:space="preserve">%</text>
<text transform="translate(174.90 539.20) rotate(-90)" font-size="12.70" text-anchor="middle">Pressure (mb)</text>
<text transform="translate(477.10 539.60) rotate(-90)" font-size="12.80" text-anchor="middle">Height (km)</text>
</g>
<text x="470.60" y="449.00" font-size="10.20" text-anchor="start"  xml:space="preserve">MIN = -21.26 MAX =  19.61</text>
<rect x="512.20" y="468.20" width="22.60" height="11.36" fill="#8c0000" stroke="#000" stroke-width="0.7"/>
<rect x="512.20" y="479.56" width="22.60" height="11.36" fill="#b92005" stroke="#000" stroke-width="0.7"/>
<rect x="512.20" y="490.91" width="22.60" height="11.36" fill="#e13205" stroke="#000" stroke-width="0.7"/>
<rect x="512.20" y="502.27" width="22.60" height="11.36" fill="#fa551e" stroke="#000" stroke-width="0.7"/>
<rect x="512.20" y="513.62" width="22.60" height="11.36" fill="#fc7d46" stroke="#000" stroke-width="0.7"/>
<rect x="512.20" y="524.98" width="22.60" height="11.36" fill="#fdaa82" stroke="#000" stroke-width="0.7"/>
<rect x="512.20" y="536.34" width="22.60" height="11.36" fill="#feceb2" stroke="#000" stroke-width="0.7"/>
<rect x="512.20" y="547.69" width="22.60" height="11.36" fill="#fee9d9" stroke="#000" stroke-width="0.7"/>
<rect x="512.20" y="559.05" width="22.60" height="11.36" fill="#d7e9fd" stroke="#000" stroke-width="0.7"/>
<rect x="512.20" y="570.41" width="22.60" height="11.36" fill="#afcdfd" stroke="#000" stroke-width="0.7"/>
<rect x="512.20" y="581.76" width="22.60" height="11.36" fill="#82aafc" stroke="#000" stroke-width="0.7"/>
<rect x="512.20" y="593.12" width="22.60" height="11.36" fill="#467dfa" stroke="#000" stroke-width="0.7"/>
<rect x="512.20" y="604.47" width="22.60" height="11.36" fill="#1e50fa" stroke="#000" stroke-width="0.7"/>
<rect x="512.20" y="615.83" width="22.60" height="11.36" fill="#002de1" stroke="#000" stroke-width="0.7"/>
<rect x="512.20" y="627.19" width="22.60" height="11.36" fill="#001eb9" stroke="#000" stroke-width="0.7"/>
<rect x="512.20" y="638.54" width="22.60" height="11.36" fill="#00008c" stroke="#000" stroke-width="0.7"/>
<text x="545.20" y="482.76" font-size="9.00" text-anchor="middle"  xml:space="preserve">40</text>
<text x="545.20" y="494.11" font-size="9.00" text-anchor="middle"  xml:space="preserve">35</text>
<text x="545.20" y="505.47" font-size="9.00" text-anchor="middle"  xml:space="preserve">30</text>
<text x="545.20" y="516.83" font-size="9.00" text-anchor="middle"  xml:space="preserve">25</text>
<text x="545.20" y="528.18" font-size="9.00" text-anchor="middle"  xml:space="preserve">20</text>
<text x="545.20" y="539.54" font-size="9.00" text-anchor="middle"  xml:space="preserve">15</text>
<text x="545.20" y="550.89" font-size="9.00" text-anchor="middle"  xml:space="preserve">10</text>
<text x="545.20" y="562.25" font-size="9.00" text-anchor="middle"  xml:space="preserve">0</text>
<text x="545.20" y="573.61" font-size="9.00" text-anchor="middle"  xml:space="preserve">-10</text>
<text x="545.20" y="584.96" font-size="9.00" text-anchor="middle"  xml:space="preserve">-15</text>
<text x="545.20" y="596.32" font-size="9.00" text-anchor="middle"  xml:space="preserve">-20</text>
<text x="545.20" y="607.67" font-size="9.00" text-anchor="middle"  xml:space="preserve">-25</text>
<text x="545.20" y="619.03" font-size="9.00" text-anchor="middle"  xml:space="preserve">-30</text>
<text x="545.20" y="630.39" font-size="9.00" text-anchor="middle"  xml:space="preserve">-35</text>
<text x="545.20" y="641.74" font-size="9.00" text-anchor="middle"  xml:space="preserve">-40</text>
</svg>
</body></html>
